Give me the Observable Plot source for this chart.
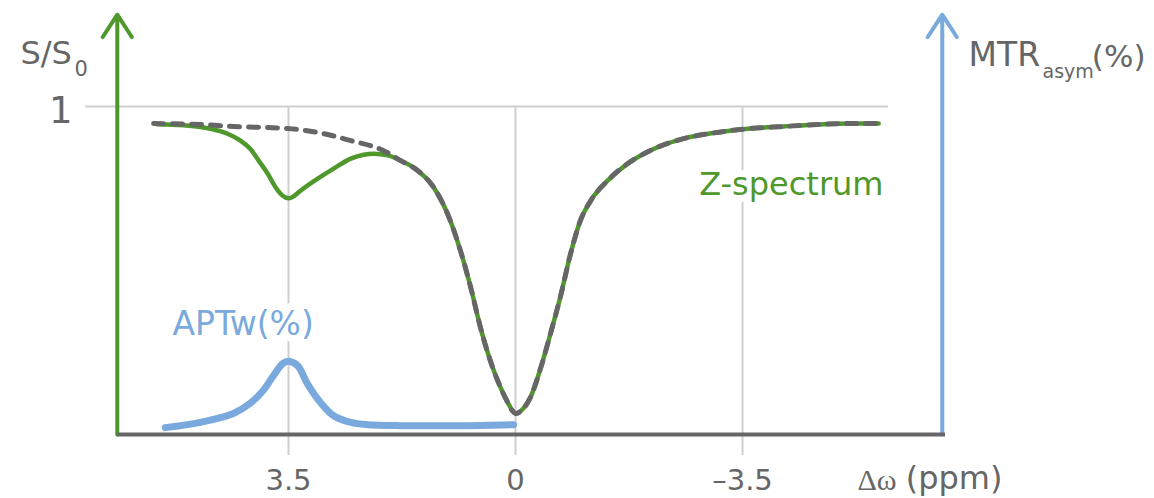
<!DOCTYPE html>
<html>
<head>
<meta charset="utf-8">
<script src="https://cdn.jsdelivr.net/npm/d3@7"></script>
<script src="https://cdn.jsdelivr.net/npm/@observablehq/plot@0.6"></script>
<style>
  html, body { margin: 0; padding: 0; background: #fff; }
  #chart svg { display: block; }
</style>
</head>
<body>
<div id="chart"></div>
<script>
// ---- Data ----
// Z-spectrum (S/S0) vs saturation offset (ppm), ordered from +ppm to -ppm
const zPpm = [5.52, 5.12, 4.70, 4.44, 4.24, 4.09, 3.96, 3.82, 3.70, 3.59, 3.50, 3.44, 3.31, 3.05, 2.81, 2.54, 2.34, 2.19, 1.97, 1.77, 1.51, 1.26, 1.05, 0.85, 0.69, 0.54, 0.39, 0.23, 0.12, 0.05, 0, -0.12, -0.23, -0.39, -0.54, -0.69, -0.85, -1.00, -1.16, -1.42, -1.73, -2.08, -2.59, -3.11, -3.62, -4.13, -4.66, -5.17, -5.60];
const zSignal = [0.946, 0.943, 0.932, 0.917, 0.896, 0.871, 0.835, 0.795, 0.754, 0.728, 0.720, 0.724, 0.744, 0.780, 0.810, 0.841, 0.853, 0.856, 0.851, 0.835, 0.805, 0.753, 0.674, 0.561, 0.448, 0.326, 0.226, 0.143, 0.098, 0.073, 0.064, 0.079, 0.113, 0.204, 0.308, 0.418, 0.552, 0.652, 0.713, 0.774, 0.826, 0.866, 0.902, 0.921, 0.933, 0.939, 0.945, 0.948, 0.948];

// Reference (dashed) spectrum without the amide dip: upper part, then it follows the Z-spectrum
const refUpperPpm = [5.58, 4.86, 4.35, 3.52, 3.05, 2.54, 2.04, 1.77];
const refUpperSignal = [0.948, 0.945, 0.939, 0.933, 0.921, 0.896, 0.866, 0.835];

// APTw / MTRasym (%) curve
const aptPpm = [5.40, 4.86, 4.35, 4.09, 3.89, 3.73, 3.59, 3.50, 3.36, 3.21, 3.01, 2.81, 2.54, 2.28, 1.77, 1.26, 0.74, 0.03];
const aptPercent = [0.21, 0.37, 0.64, 0.95, 1.34, 1.80, 2.16, 2.23, 2.10, 1.55, 0.98, 0.58, 0.37, 0.30, 0.27, 0.27, 0.27, 0.30];
const mtrFullScale = 10; // % of MTRasym drawn at the height of S/S0 = 1

// Ticks
const xTicks = [3.5, 0, -3.5];
const xTickLabels = ["3.5", "0", "\u20133.5"];
const yTicks = [1];
const yTickLabels = ["1"];

// ---- Build tables ----
const zData = zPpm.map((p, i) => ({ppm: p, s: zSignal[i]}));
const refData = refUpperPpm.map((p, i) => ({ppm: p, s: refUpperSignal[i]}))
  .concat(zData.filter(d => d.ppm < refUpperPpm[refUpperPpm.length - 1]));
const aptData = aptPpm.map((p, i) => ({ppm: p, s: aptPercent[i] / mtrFullScale}));

// ---- Styles ----
const green = "#4f982b";
const blue = "#7aaadd";
const gray = "#666666";
const grid = "#cfcfcf";
const sans = "DejaVu Sans";

// axis frame (data units)
const xLeft = 6.14;     // S/S0 axis
const xRight = -6.58;   // MTRasym axis
const xAxisEnd = -6.63;
const yTop = 1.28;

const chart = Plot.plot({
  width: 1154,
  height: 498,
  margin: 0,
  x: {domain: [3.5, 0], range: [288, 515], axis: null},
  y: {domain: [0, 1], range: [434, 106], axis: null},
  marks: [
    // gridlines
    Plot.ruleX(xTicks, {x: d => d, y1: 1, y2: -0.064, stroke: grid, strokeWidth: 2}),
    Plot.ruleY(yTicks, {y: d => d, x1: 6.63, x2: -5.75, stroke: grid, strokeWidth: 2}),
    // curve labels (white halo hides gridline behind the text)
    Plot.text(["Z-spectrum"], {text: d => d, frameAnchor: "top-left", dx: 883, dy: 194, textAnchor: "end", lineAnchor: "bottom",
      fontSize: 32, fontFamily: sans, fill: green, stroke: "white", strokeWidth: 14, paintOrder: "stroke"}),
    Plot.text(["APTw(%)"], {text: d => d, frameAnchor: "top-left", dx: 172, dy: 334, textAnchor: "start", lineAnchor: "bottom",
      fontSize: 33, fontFamily: sans, fill: blue, stroke: "white", strokeWidth: 14, paintOrder: "stroke"}),
    // left axis (S/S0) arrow
    Plot.arrow([0], {x1: xLeft, x2: xLeft, y1: 0, y2: yTop, stroke: green, strokeWidth: 4, headLength: 10, headAngle: 66}),
    // right axis (MTRasym) arrow
    Plot.arrow([0], {x1: xRight, x2: xRight, y1: 0, y2: yTop, stroke: blue, strokeWidth: 4, headLength: 10, headAngle: 66}),
    // x axis line
    Plot.ruleY([0], {x1: xLeft, x2: xAxisEnd, stroke: gray, strokeWidth: 4}),
    // APTw curve
    Plot.line(aptData, {x: "ppm", y: "s", stroke: blue, strokeWidth: 7, strokeLinecap: "round", curve: "catmull-rom"}),
    // Z-spectrum
    Plot.line(zData, {x: "ppm", y: "s", stroke: green, strokeWidth: 4.5, curve: "monotone-x"}),
    // reference spectrum (dashed)
    Plot.line(refData, {x: "ppm", y: "s", stroke: gray, strokeWidth: 5, strokeDasharray: "10,9", curve: "monotone-x"}),
    // tick labels
    Plot.text(xTicks, {x: d => d, text: (d, i) => xTickLabels[i], frameAnchor: "bottom", dy: -9, lineAnchor: "bottom",
      fontSize: 29, fontFamily: sans, fill: gray}),
    Plot.text(yTicks, {y: d => d, text: (d, i) => yTickLabels[i], frameAnchor: "left", dx: 72, dy: 16, textAnchor: "end", lineAnchor: "bottom",
      fontSize: 37, fontFamily: sans, fill: gray}),
    // axis titles
    Plot.text(["S/S"], {text: d => d, frameAnchor: "top-left", dx: 20, dy: 63, textAnchor: "start", lineAnchor: "bottom",
      fontSize: 32, fontFamily: sans, fill: gray}),
    Plot.text(["0"], {text: d => d, frameAnchor: "top-left", dx: 74, dy: 75, textAnchor: "start", lineAnchor: "bottom",
      fontSize: 21, fontFamily: sans, fill: gray}),
    Plot.text(["MTR"], {text: d => d, frameAnchor: "top-left", dx: 968, dy: 65, textAnchor: "start", lineAnchor: "bottom",
      fontSize: 33, fontFamily: sans, fill: gray}),
    Plot.text(["asym"], {text: d => d, frameAnchor: "top-left", dx: 1042, dy: 77, textAnchor: "start", lineAnchor: "bottom",
      fontSize: 19, fontFamily: sans, fill: gray}),
    Plot.text(["(%)"], {text: d => d, frameAnchor: "top-left", dx: 1145, dy: 66, textAnchor: "end", lineAnchor: "bottom",
      fontSize: 31, fontFamily: sans, fill: gray}),
    Plot.text(["\u0394\u03c9"], {text: d => d, frameAnchor: "top-left", dx: 857, dy: 489, textAnchor: "start", lineAnchor: "bottom",
      fontSize: 30, fontFamily: "Liberation Serif", fill: gray}),
    Plot.text(["(ppm)"], {text: d => d, frameAnchor: "top-left", dx: 1002, dy: 488, textAnchor: "end", lineAnchor: "bottom",
      fontSize: 32, fontFamily: sans, fill: gray})
  ]
});
document.getElementById("chart").appendChild(chart);
</script>
</body>
</html>
